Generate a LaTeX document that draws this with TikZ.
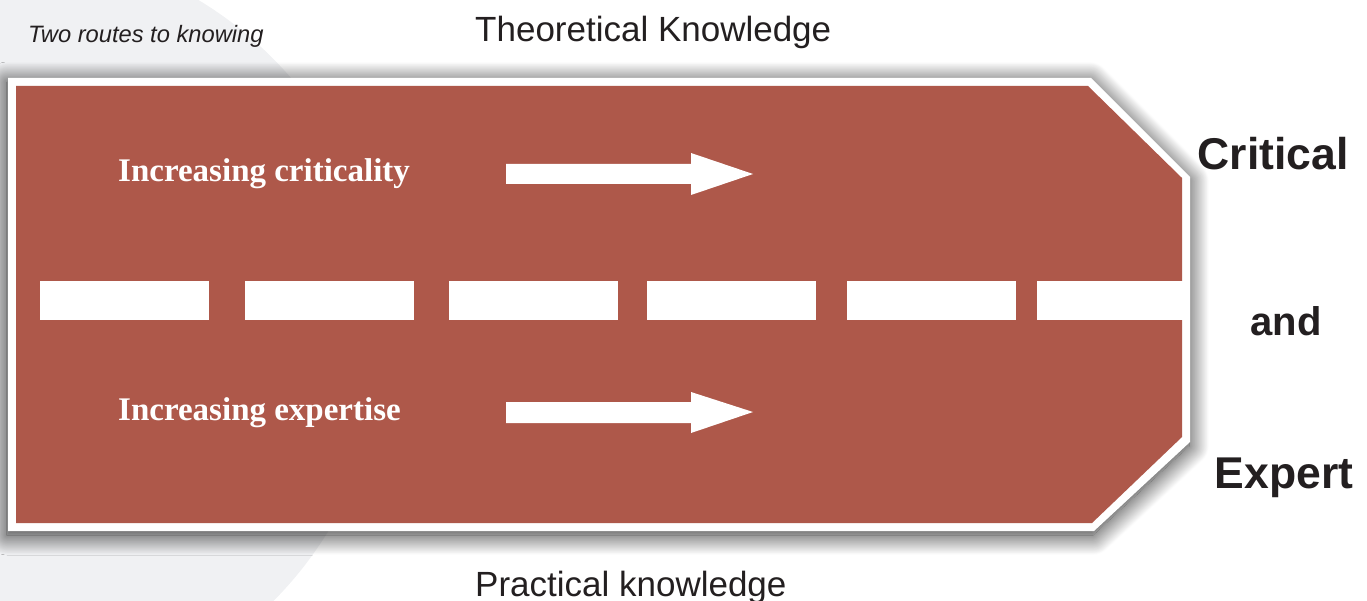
\documentclass[tikz,border=0pt]{standalone}
\usepackage{fontspec}
\setmainfont{Liberation Serif}
\setsansfont{Liberation Sans}
\usetikzlibrary{shadows.blur}
\definecolor{road}{HTML}{AE584A}
\definecolor{haze}{HTML}{F0F1F3}
\definecolor{ink}{HTML}{231F20}
\tikzset{
  lbl/.style={inner sep=0pt, anchor=base west, text=ink, font=\sffamily\fontsize{35}{40}\selectfont},
  goal/.style={inner sep=0pt, anchor=base, text=ink, font=\sffamily\bfseries\fontsize{44.5}{50}\selectfont},
  lane/.style={inner sep=0pt, anchor=base west, text=white, font=\rmfamily\bfseries\fontsize{33}{36}\selectfont},
  stripe/.style={fill=white},
  pointer/.style={fill=white},
}
\begin{document}
\begin{tikzpicture}[x=1pt, y=-1pt]
\useasboundingbox (0,0) rectangle (1367,601);
\begin{scope}
  \clip (0,0) rectangle (1367,601);
  % pale disc behind the sign
  \fill[haze] (0,330) circle[radius=385pt];
  % sign: white rim with soft shadow, then red board
  \fill[white, blur shadow={shadow xshift=-1pt, shadow yshift=-4pt, shadow blur radius=20pt, shadow blur steps=30, shadow opacity=85}]
    (8,78) -- (1091,78) -- (1190,177) -- (1190,442) -- (1094,531) -- (8,531) -- cycle;
  \fill[road] (16,86) -- (1088,86) -- (1182,178) -- (1182,437) -- (1092,523) -- (16,523) -- cycle;
\end{scope}
% centre line
\foreach \a/\b in {40/209, 245/414, 449/618, 647/816, 847/1016, 1037/1190}
  \fill[stripe] (\a,281) rectangle (\b,320);
% direction arrows
\fill[pointer] (506,164) -- (691,164) -- (691,153) -- (753,174) -- (691,195) -- (691,184) -- (506,184) -- cycle;
\fill[pointer] (506,402) -- (691,402) -- (691,392) -- (753,412) -- (691,433) -- (691,423) -- (506,423) -- cycle;
% labels
\node[inner sep=0pt, anchor=base west, text=ink, font=\sffamily\itshape\fontsize{23.7}{26}\selectfont] (title) at (28,43) {Two routes to knowing};
\node[lbl] (theory) at (475,42) {Theoretical Knowledge};
\node[lbl] (practice) at (475,596) {Practical knowledge};
\node[lane] (crit) at (118,182) {Increasing criticality};
\node[lane] (expt) at (118,420) {Increasing expertise};
\node[goal] (g1) at (1273,170) {Critical};
\node[goal, font=\sffamily\bfseries\fontsize{40}{46}\selectfont] (g2) at (1286,335) {and};
\node[goal] (g3) at (1284,488) {Expert};
\end{tikzpicture}
\end{document}
